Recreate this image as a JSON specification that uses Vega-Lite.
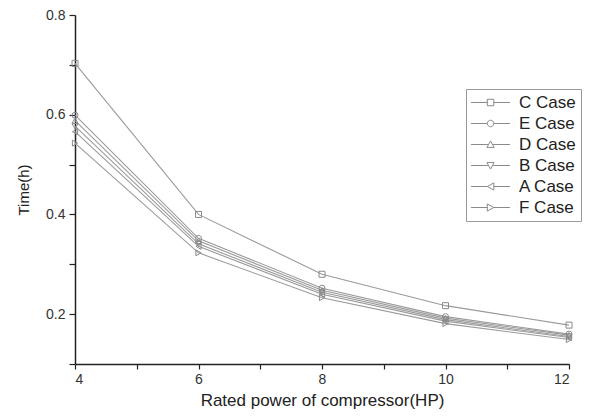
{
  "$schema": "https://vega.github.io/schema/vega-lite/v6.json",
  "width": 494,
  "height": 349,
  "autosize": "none",
  "padding": {"left": 75, "top": 15, "right": 25, "bottom": 55},
  "background": "white",
  "config": {
    "view": {"stroke": null},
    "font": "Liberation Sans"
  },
  "data": {
    "values": [
      {"hp": 4, "time": 0.703, "case": "C Case"},
      {"hp": 6, "time": 0.400, "case": "C Case"},
      {"hp": 8, "time": 0.280, "case": "C Case"},
      {"hp": 10, "time": 0.217, "case": "C Case"},
      {"hp": 12, "time": 0.178, "case": "C Case"},
      {"hp": 4, "time": 0.599, "case": "E Case"},
      {"hp": 6, "time": 0.352, "case": "E Case"},
      {"hp": 8, "time": 0.252, "case": "E Case"},
      {"hp": 10, "time": 0.195, "case": "E Case"},
      {"hp": 12, "time": 0.160, "case": "E Case"},
      {"hp": 4, "time": 0.588, "case": "D Case"},
      {"hp": 6, "time": 0.347, "case": "D Case"},
      {"hp": 8, "time": 0.248, "case": "D Case"},
      {"hp": 10, "time": 0.192, "case": "D Case"},
      {"hp": 12, "time": 0.158, "case": "D Case"},
      {"hp": 4, "time": 0.577, "case": "B Case"},
      {"hp": 6, "time": 0.341, "case": "B Case"},
      {"hp": 8, "time": 0.244, "case": "B Case"},
      {"hp": 10, "time": 0.189, "case": "B Case"},
      {"hp": 12, "time": 0.155, "case": "B Case"},
      {"hp": 4, "time": 0.566, "case": "A Case"},
      {"hp": 6, "time": 0.336, "case": "A Case"},
      {"hp": 8, "time": 0.240, "case": "A Case"},
      {"hp": 10, "time": 0.186, "case": "A Case"},
      {"hp": 12, "time": 0.153, "case": "A Case"},
      {"hp": 4, "time": 0.543, "case": "F Case"},
      {"hp": 6, "time": 0.323, "case": "F Case"},
      {"hp": 8, "time": 0.233, "case": "F Case"},
      {"hp": 10, "time": 0.181, "case": "F Case"},
      {"hp": 12, "time": 0.149, "case": "F Case"}
    ]
  },
  "encoding": {
    "x": {
      "field": "hp", "type": "quantitative",
      "scale": {"domain": [4, 12], "nice": false, "zero": false},
      "axis": {
        "title": "Rated power of compressor(HP)",
        "values": [4, 5, 6, 7, 8, 9, 10, 11, 12],
        "labelExpr": "datum.value % 2 == 0 ? datum.label : ''",
        "grid": false, "domainColor": "#222", "domainWidth": 1.5,
        "tickColor": "#222", "tickSize": 5, "tickWidth": 1.2,
        "labelFontSize": 14, "labelColor": "#333", "labelPadding": 3,
        "titleFontSize": 17, "titleFontWeight": "normal", "titleColor": "#222", "titlePadding": 6
      }
    },
    "y": {
      "field": "time", "type": "quantitative",
      "scale": {"domain": [0.1, 0.8], "nice": false, "zero": false},
      "axis": {
        "title": "Time(h)",
        "values": [0.1, 0.2, 0.3, 0.4, 0.5, 0.6, 0.7, 0.8],
        "format": ".1f",
        "labelExpr": "(abs(datum.value*10 - 2) < 0.01 || abs(datum.value*10 - 4) < 0.01 || abs(datum.value*10 - 6) < 0.01 || abs(datum.value*10 - 8) < 0.01) ? datum.label : ''",
        "grid": false, "domainColor": "#222", "domainWidth": 1.5,
        "tickColor": "#222", "tickSize": 6, "tickWidth": 1.2,
        "labelFontSize": 14, "labelColor": "#333", "labelPadding": 4,
        "titleFontSize": 15, "titleFontWeight": "normal", "titleColor": "#222", "titlePadding": 14
      }
    }
  },
  "resolve": {"scale": {"shape": "independent"}, "legend": {"shape": "independent"}},
  "layer": [
    {
      "mark": {"type": "line", "color": "#9a9a9a", "strokeWidth": 1.1},
      "encoding": {"detail": {"field": "case"}}
    },
    {
      "mark": {"type": "point", "filled": false, "size": 36, "stroke": "#8a8a8a", "strokeWidth": 1, "opacity": 1},
      "encoding": {
        "shape": {
          "field": "case", "type": "nominal",
          "scale": {
            "domain": ["C Case", "E Case", "D Case", "B Case", "A Case", "F Case"],
            "range": ["square", "circle", "triangle-up", "triangle-down", "triangle-left", "triangle-right"]
          },
          "legend": null
        }
      }
    },
    {
      "mark": {"type": "point", "filled": false, "size": 0, "stroke": "#8a8a8a", "strokeWidth": 1, "opacity": 1},
      "encoding": {
        "shape": {
          "field": "case", "type": "nominal",
          "scale": {
            "domain": ["C Case", "E Case", "D Case", "B Case", "A Case", "F Case"],
            "range": [
              "M-1.3,0H1.2M2.2,0H4.7M1.2,-0.5H2.2V0.5H1.2Z",
              "M-1.3,0H1.2M2.2,0H4.7M1.2,0A0.5,0.5 0 1,0 2.2,0A0.5,0.5 0 1,0 1.2,0Z",
              "M-1.3,0H1.3M2.1,0H4.7M1.7,-0.55L2.25,0.45L1.15,0.45Z",
              "M-1.3,0H1.3M2.1,0H4.7M1.7,0.55L2.25,-0.45L1.15,-0.45Z",
              "M-1.3,0H1.2M2.2,0H4.7M1.2,0L2.2,-0.55L2.2,0.55Z",
              "M-1.3,0H1.2M2.2,0H4.7M2.2,0L1.2,-0.55L1.2,0.55Z"
            ]
          },
          "legend": {
            "title": null,
            "orient": "none",
            "legendX": 391,
            "legendY": 74,
            "strokeColor": "#999",
            "padding": 5,
            "symbolSize": 169,
            "labelOffset": 31,
            "labelFontSize": 17,
            "labelColor": "#222",
            "labelFont": "Liberation Sans",
            "symbolStrokeColor": "#8a8a8a",
            "symbolFillColor": "transparent",
            "symbolStrokeWidth": 1,
            "symbolOpacity": 1,
            "rowPadding": 3
          }
        }
      }
    }
  ]
}
